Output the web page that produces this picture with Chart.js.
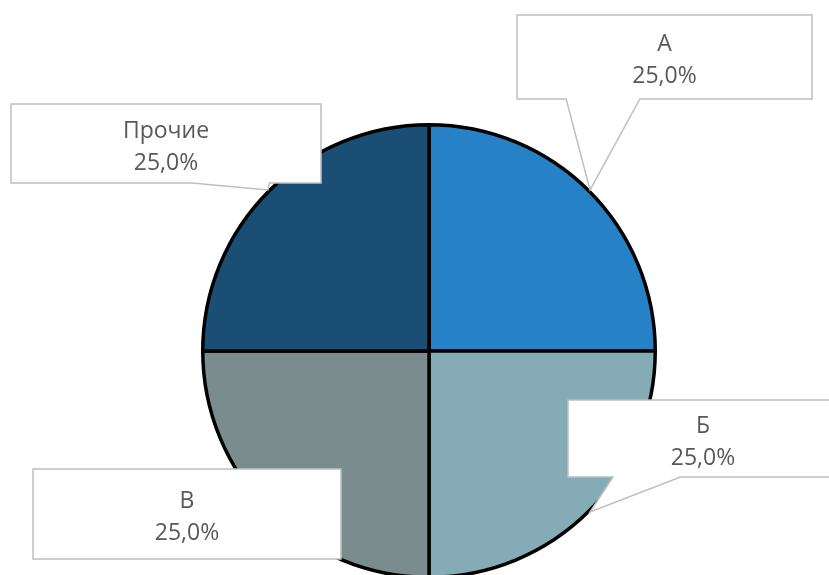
<!DOCTYPE html>
<html>
<head>
<meta charset="utf-8">
<script src="https://cdn.jsdelivr.net/npm/chart.js@4"></script>
<style>
  html, body { margin: 0; padding: 0; background: #fff; overflow: hidden; }
  #wrap { width: 829px; height: 575px; overflow: hidden; }
</style>
</head>
<body>
<div id="wrap"><canvas id="shareChart" width="829" height="700"></canvas></div>
<script>
const categories = ['А', 'Б', 'В', 'Прочие'];
const shares = [25, 25, 25, 25];
const sliceColors = ['#2781C6', '#85ACB6', '#7A8C8D', '#1A4E74'];

// callout boxes, offset from the pie centre (cx, cy, w, h)
const calloutBoxes = [
  { dx: 235.5, dy: -294, w: 295, h: 84 },
  { dx: 274, dy: 87.5, w: 270, h: 77 },
  { dx: -242, dy: 163, w: 308, h: 90 },
  { dx: -263, dy: -207.5, w: 310, h: 79 },
];

const total = shares.reduce((a, b) => a + b, 0);
const pct = (v) => (v / total * 100).toFixed(1).replace('.', ',') + '%';

const calloutPlugin = {
  id: 'callouts',
  afterDraw(chart) {
    const ctx = chart.ctx;
    const meta = chart.getDatasetMeta(0);
    meta.data.forEach((arc, i) => {
      const box = calloutBoxes[i];
      const p = arc.getProps(['x', 'y', 'startAngle', 'endAngle', 'outerRadius'], true);
      const mid = (p.startAngle + p.endAngle) / 2;
      const r = p.outerRadius + 1.5;
      const tx = p.x + Math.cos(mid) * r;
      const ty = p.y + Math.sin(mid) * r;
      const cx = p.x + box.dx, cy = p.y + box.dy;
      const l = cx - box.w / 2, t = cy - box.h / 2, rr = l + box.w, b = t + box.h;

      ctx.save();
      ctx.beginPath();
      const inside = tx >= l && tx <= rr && ty >= t && ty <= b;
      const ndx = (tx - cx) / box.w, ndy = (ty - cy) / box.h;
      if (inside) {
        ctx.rect(l, t, box.w, box.h);
      } else if (Math.abs(ndy) >= Math.abs(ndx)) {
        // pointer on top or bottom edge
        const f1 = ndx > 0 ? 7 / 12 : 2 / 12, f2 = ndx > 0 ? 10 / 12 : 5 / 12;
        const x1 = l + box.w * f1, x2 = l + box.w * f2;
        if (ndy > 0) {
          ctx.moveTo(l, t); ctx.lineTo(rr, t); ctx.lineTo(rr, b);
          ctx.lineTo(x2, b); ctx.lineTo(tx, ty); ctx.lineTo(x1, b); ctx.lineTo(l, b);
        } else {
          ctx.moveTo(l, b); ctx.lineTo(rr, b); ctx.lineTo(rr, t);
          ctx.lineTo(x2, t); ctx.lineTo(tx, ty); ctx.lineTo(x1, t); ctx.lineTo(l, t);
        }
        ctx.closePath();
      } else {
        const f1 = ndy > 0 ? 7 / 12 : 2 / 12, f2 = ndy > 0 ? 10 / 12 : 5 / 12;
        const y1 = t + box.h * f1, y2 = t + box.h * f2;
        if (ndx > 0) {
          ctx.moveTo(l, t); ctx.lineTo(rr, t); ctx.lineTo(rr, y1);
          ctx.lineTo(tx, ty); ctx.lineTo(rr, y2); ctx.lineTo(rr, b); ctx.lineTo(l, b);
        } else {
          ctx.moveTo(rr, t); ctx.lineTo(l, t); ctx.lineTo(l, y1);
          ctx.lineTo(tx, ty); ctx.lineTo(l, y2); ctx.lineTo(l, b); ctx.lineTo(rr, b);
        }
        ctx.closePath();
      }
      ctx.fillStyle = '#ffffff';
      ctx.fill();
      ctx.lineWidth = 1.5;
      ctx.strokeStyle = '#BFBFBF';
      ctx.stroke();

      ctx.fillStyle = '#595959';
      ctx.font = '23px "Open Sans", sans-serif';
      ctx.textAlign = 'center';
      ctx.textBaseline = 'alphabetic';
      ctx.fillText(categories[i], cx, cy - 6);
      ctx.fillText(pct(shares[i]), cx, cy + 26);
      ctx.restore();
    });
  }
};

new Chart(document.getElementById('shareChart'), {
  type: 'pie',
  data: {
    labels: categories,
    datasets: [{
      data: shares,
      backgroundColor: sliceColors,
      borderColor: '#000000',
      borderWidth: 3.5,
    }],
  },
  options: {
    responsive: false,
    animation: false,
    layout: { padding: { left: 201, right: 172, top: 123, bottom: 121 } },
    plugins: {
      legend: { display: false },
      tooltip: { enabled: false },
    },
  },
  plugins: [calloutPlugin],
});
</script>
</body>
</html>
